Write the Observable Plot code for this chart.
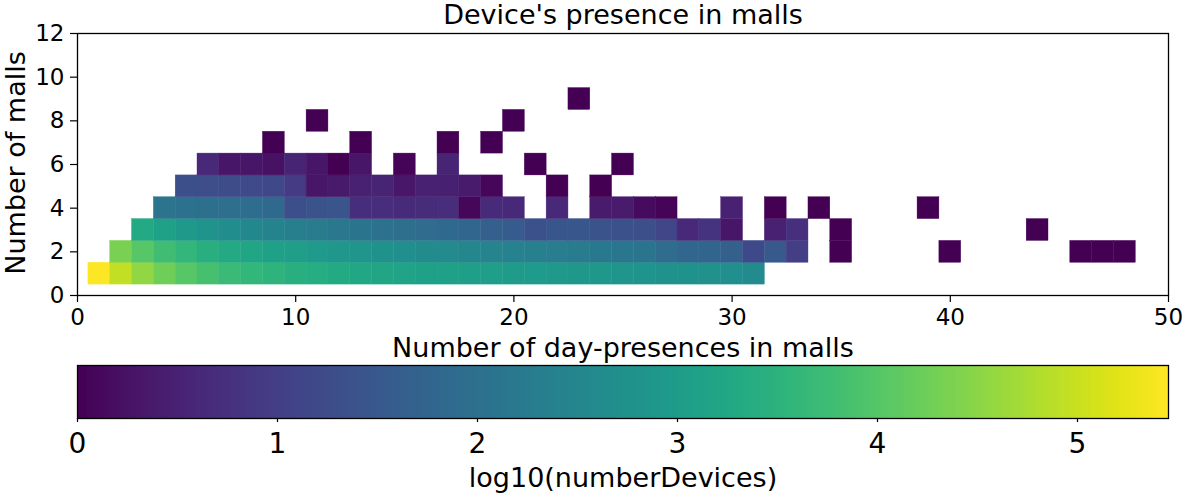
<!DOCTYPE html>
<html>
<head>
<meta charset="utf-8">
<script src="https://cdn.jsdelivr.net/npm/d3@7"></script>
<script src="https://cdn.jsdelivr.net/npm/@observablehq/plot@0.6"></script>
<style>
  body { margin: 0; background: #fff; }
  #chart { width: 1183px; height: 495px; overflow: hidden; }
  #chart svg { display: block; }
</style>
</head>
<body>
<div id="chart"></div>
<script>
// ---- Data (log10 of number of devices per cell) ----
const xTickValues = [0, 10, 20, 30, 40, 50];
const yTickValues = [0, 2, 4, 6, 8, 10, 12];
const colorbarTickValues = [0, 1, 2, 3, 4, 5];

// y = number of malls for each row, and the x (day-presences) of the first entry of each row
const rowY = [1, 2, 3, 4, 5, 6, 7, 8, 9];
const rowStartX = [1, 2, 3, 4, 5, 6, 9, 11, 23];

// values per x (null = no device)
const row1 = [5.44, 4.95, 4.55, 4.25, 4.02, 3.84, 3.7, 3.6, 3.52, 3.44, 3.37, 3.31, 3.26, 3.21, 3.17, 3.13,
              3.09, 3.06, 3.03, 3.0, 2.97, 2.94, 2.91, 2.88, 2.85, 2.82, 2.79, 2.76, 2.73, 2.7, 2.62];
const row2 = [4.35, 4.02, 3.78, 3.6, 3.45, 3.32, 3.22, 3.13, 3.05, 2.98, 2.91, 2.85, 2.78, 2.7, 2.64, 2.58,
              2.52, 2.46, 2.41, 2.36, 2.3, 2.25, 2.2, 2.15, 2.1, 1.9, 1.8, 1.75, 1.65, 1.2, 1.5, 1.0,
              null, 0, null, null, null, null, 0, null, null, null, null, null, 0, 0, 0];
const row3 = [3.3, 3.1, 2.95, 2.8, 2.66, 2.54, 2.43, 2.33, 2.25, 2.18, 2.1, 2.03, 1.97, 1.9, 1.84, 1.77,
              1.62, 1.56, 1.35, 1.47, 1.45, 1.4, 1.35, 1.3, 1.15, 0.6, 0.8, 0.3, null, 0.5, 0.75,
              null, 0, null, null, null, null, null, null, null, null, 0];
const row4 = [2.08, 2.05, 2.0, 1.97, 1.93, 1.85, 1.3, 1.4, 1.42, 0.72, 0.7, 0.65, 0.68, 0.7, 0.1,
              0.65, 0.6, null, 0.6, null, 0.4, 0.4, 0.15, 0.05, null, null, 0.5, null, 0, null, 0,
              null, null, null, null, 0];
const row5 = [1.3, 1.28, 1.25, 1.22, 1.18, 0.95, 0.3, 0.38, 0.5, 0.55, 0.32, 0.5, 0.48, 0.4, 0.1,
              null, null, 0, null, 0];
const row6 = [0.6, 0.3, 0.3, 0.25, 0.55, 0.3, 0, 0.3, null, 0.05, null, 0.55, null, null, null, 0,
              null, null, null, 0];
const row7 = [0, null, null, null, 0, null, null, null, 0, null, 0];
const row8 = [0, null, null, null, null, null, null, null, null, 0];
const row9 = [0];

const rows = [row1, row2, row3, row4, row5, row6, row7, row8, row9];
const colorMax = 5.455;

const cells = [];
rows.forEach((r, i) => r.forEach((v, j) => {
  if (v !== null) cells.push({x: rowStartX[i] + j, y: rowY[i], v});
}));

const colorScale = {type: "linear", scheme: "viridis", domain: [0, colorMax]};
const font = "DejaVu Sans";
const labelText = {text: d => d, textAnchor: "middle", lineAnchor: "middle", fontSize: 27, fill: "black"};

const main = Plot.plot({
  width: 1183,
  height: 364,
  marginTop: 33,
  marginBottom: 69,
  marginLeft: 77,
  marginRight: 15,
  style: {fontFamily: font, fontSize: "23px", color: "black", background: "white"},
  x: {domain: [0, 50]},
  y: {domain: [0, 12]},
  color: colorScale,
  marks: [
    Plot.rect(cells, {
      x1: d => d.x - 0.5, x2: d => d.x + 0.5,
      y1: d => d.y - 0.5, y2: d => d.y + 0.5,
      fill: "v", stroke: "v", strokeWidth: 0.4
    }),
    Plot.frame({stroke: "black", strokeWidth: 1.3}),
    Plot.axisX(xTickValues, {tickSize: 7, tickPadding: 6, label: null, stroke: "black", strokeWidth: 1.2, tickFormat: d => String(d)}),
    Plot.axisY(yTickValues, {tickSize: 7, tickPadding: 6, label: null, stroke: "black", strokeWidth: 1.2, tickFormat: d => String(d)}),
    Plot.text(["Device's presence in malls"], {...labelText, frameAnchor: "top", dy: -18.6}),
    Plot.text(["Number of malls"], {...labelText, frameAnchor: "left", dx: -61.6, dy: -1.5, rotate: -90}),
    Plot.text(["Number of day-presences in malls"], {...labelText, frameAnchor: "bottom", dy: 53})
  ]
});

// colour bar (legend ramp): one slice per pixel of the bar
const rampN = 1091;
const rampSteps = d3.range(0, rampN).map(i => ({a: i * colorMax / rampN, b: (i + 1) * colorMax / rampN}));
const bar = Plot.plot({
  width: 1183,
  height: 131,
  marginTop: 1,
  marginBottom: 77,
  marginLeft: 77,
  marginRight: 15,
  style: {fontFamily: font, fontSize: "28px", color: "black", background: "white"},
  x: {domain: [0, colorMax]},
  color: colorScale,
  marks: [
    Plot.rect(rampSteps, {x1: "a", x2: "b", fill: d => (d.a + d.b) / 2, shapeRendering: "crispEdges"}),
    Plot.frame({stroke: "black", strokeWidth: 1.3}),
    Plot.axisX(colorbarTickValues, {tickSize: 4, tickPadding: 11, label: null, stroke: "black", strokeWidth: 1.2, tickFormat: d => String(d)}),
    Plot.text(["log10(numberDevices)"], {...labelText, frameAnchor: "bottom", dy: 60})
  ]
});

const chart = document.getElementById("chart");
chart.appendChild(main);
chart.appendChild(bar);
</script>
</body>
</html>
